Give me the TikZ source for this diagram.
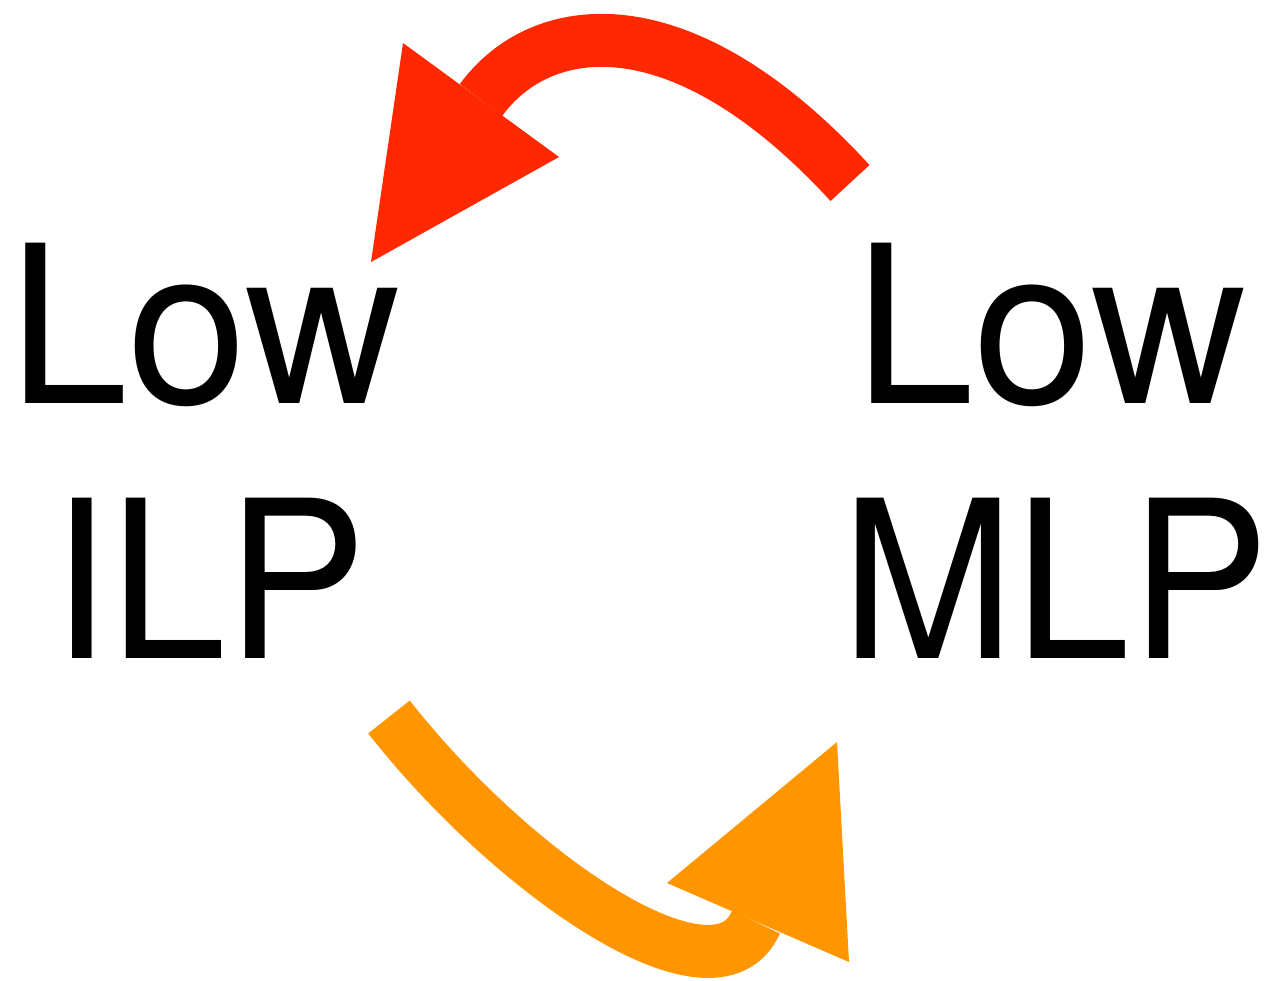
\documentclass[tikz,border=0pt]{standalone}
\usepackage{fontspec}
\setmainfont{TeX Gyre Heros}
\definecolor{loopred}{RGB}{255,40,0}
\definecolor{looporange}{RGB}{255,150,0}
% horizontally condensed word
\newcommand{\squeezed}[2]{\scalebox{#1}[1]{#2}}
\begin{document}
\begin{tikzpicture}[x=1pt,y=-1pt,
  biglabel/.style={font=\fontsize{220}{255}\selectfont, inner sep=0pt, anchor=base},
  flow/.style={line width=53pt, line cap=butt},
  head/.style={fill, draw=none}]
\useasboundingbox (0,0) rectangle (1265,980);

% labels, one line per node
\node[biglabel] (lowL) at (204.5,403) {\squeezed{0.979}{Low}};
\node[biglabel] (ilp)  at (209,658)   {\squeezed{0.955}{ILP}};
\node[biglabel] (lowR) at (1050.5,403) {\squeezed{0.979}{Low}};
\node[biglabel] (mlp)  at (1055,658)  {\squeezed{0.945}{MLP}};

% red loop: from the MLP side back over the top to the ILP side
\coordinate (redstart) at (850,183);
\coordinate (redbase)  at (481,100);
\coordinate (redwingA) at (403,43);
\coordinate (redwingB) at (559,157);
\coordinate (redtip)   at (371,262);
\draw[flow, loopred] (redstart) .. controls (680,-2) and (540,19) .. (redbase);
\fill[head, loopred] (redwingA) -- (redwingB) -- (redtip) -- cycle;

% orange loop: from the ILP side under the bottom to the MLP side
\coordinate (orastart) at (389,717);
\coordinate (orabase)  at (756,922);
\coordinate (orawingA) at (667,883);
\coordinate (orawingB) at (849,962);
\coordinate (oratip)   at (837,742);
\draw[flow, looporange] (orastart) .. controls (513,875) and (716,1014) .. (orabase);
\fill[head, looporange] (orawingA) -- (orawingB) -- (oratip) -- cycle;
\end{tikzpicture}
\end{document}
